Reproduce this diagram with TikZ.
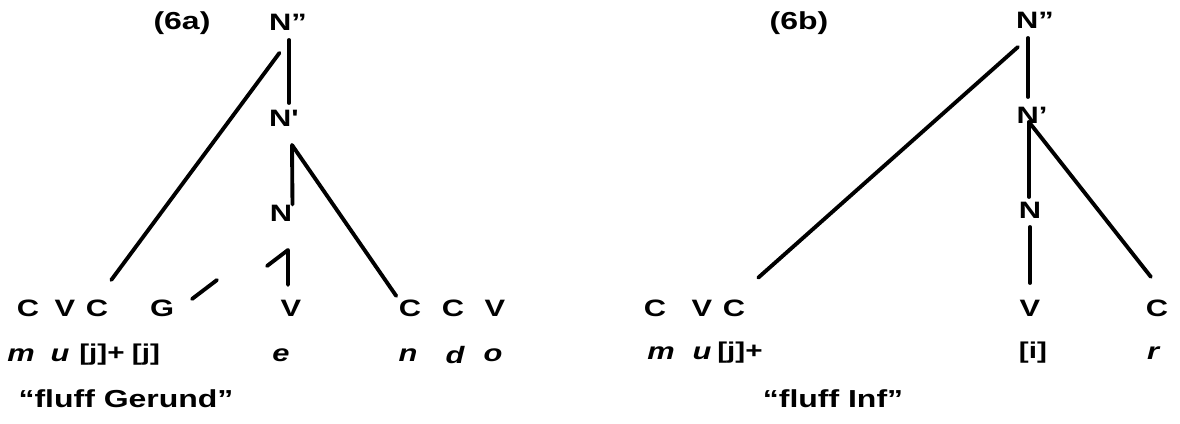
\documentclass[tikz,border=0pt]{standalone}
\usepackage{fontspec}
\setmainfont{Liberation Sans}[FakeStretch=1.3]

\tikzset{   cat/.style={inner sep=0pt,font=\bfseries\fontsize{13.5}{15}\selectfont},
            seg/.style={inner sep=0pt,font=\bfseries\fontsize{13.5}{15}\selectfont},
            gls/.style={inner sep=0pt,font=\bfseries\itshape\fontsize{13.5}{15}\selectfont},
            ipa/.style={inner sep=0pt,font=\bfseries\fontsize{13}{15}\selectfont},
            title/.style={inner sep=0pt,font=\bfseries\fontsize{14}{16}\selectfont},
            assoc/.style={line width=2.2pt,line cap=round,line join=round},
}

\begin{document}
\begin{tikzpicture}[x=0.02cm,y=-0.02cm]
    \useasboundingbox (0,0) rectangle (1180,423);

    % (6a) tree
    \node[title] (l6a) at (182,23) {(6a)};
    \node[cat] (lNpp) at (288,22) {N"};
    \node[cat] (lNp) at (283,118) {N\textquotesingle};
    \node[cat] (lN) at (281,213) {N};

    \node[seg] (lC1) at (28,308) {C};   % skeleton
    \node[seg] (lV1) at (65,308) {V};
    \node[seg] (lC2) at (97,308) {C};
    \node[seg] (lG) at (162,308) {G};
    \node[seg] (lV2) at (291,308) {V};
    \node[seg] (lC3) at (410,308) {C};
    \node[seg] (lC4) at (453,308) {C};
    \node[seg] (lV3) at (495,308) {V};

    \node[gls] (lm) at (21,355) {m};    % melody
    \node[gls] (lu) at (60,355) {u};
    \node[ipa] (lj1) at (102,355) {[j]+};
    \node[ipa] (lj2) at (146,355) {[j]};
    \node[gls] (le) at (281,355) {e};
    \node[gls] (ln) at (408,355) {n};
    \node[gls] (ld) at (455,355) {d};
    \node[gls] (lo) at (493,355) {o};

    \node[title] (lcap) at (126,399) {``fluff Gerund''};

    \coordinate (lJa) at (289,40);     % branch points
    \coordinate (lJb) at (292,145);
    \draw[assoc,shorten >=0.13cm] (lJa) -- (lJa |- lNp.north);
    \draw[assoc,shorten <=0.32cm,shorten >=0.48cm] (lJa) -- (lC2.north);
    \draw[assoc] (lJb) -- (lN.north east);
    \draw[assoc,shorten >=0.08cm] (lJb) -- (lC3.north west);

    \coordinate (lFa) at (267,266);    % broken lines
    \coordinate (lFb) at (288,250);
    \draw[assoc,shorten >=0.29cm] (lFa) -- (lFb) -- (lFb |- lV2.north);
    \coordinate (lGa) at (192,299);
    \coordinate (lGb) at (217,280);
    \draw[assoc] (lGa) -- (lGb);

    % (6b) tree
    \node[title] (r6b) at (799,23) {(6b)};
    \node[cat] (rNpp) at (1035,20) {N''};
    \node[cat] (rNp) at (1032,115) {N'};
    \node[cat] (rN) at (1030,210) {N};

    \node[seg] (rC1) at (655,308) {C};
    \node[seg] (rV1) at (702,308) {V};
    \node[seg] (rC2) at (734,308) {C};
    \node[seg] (rV2) at (1030,308) {V};
    \node[seg] (rC3) at (1157,308) {C};

    \node[gls] (rm) at (661,353) {m};
    \node[gls] (ru) at (702,353) {u};
    \node[ipa] (rj) at (740,353) {[j]+};
    \node[ipa] (ri) at (1033,353) {[i]};
    \node[gls] (rr) at (1153,353) {r};

    \node[title] (rcap) at (833,399) {``fluff Inf''};

    \coordinate (rJa) at (1028,38);
    \coordinate (rJb) at (1029,122);
    \draw[assoc,shorten >=0.19cm] (rJa) -- (rJa |- rNp.north);
    \draw[assoc,shorten <=0.27cm,shorten >=0.65cm] (rJa) -- (rC2.north);
    \draw[assoc,shorten >=0.09cm] (rJb) -- (rJb |- rN.north);
    \draw[assoc,shorten >=0.57cm] (rJb) -- (rC3.north east);
    \draw[assoc,shorten <=0.17cm,shorten >=0.33cm] (rN.south) -- (rN.south |- rV2.north);
\end{tikzpicture}
\end{document}
